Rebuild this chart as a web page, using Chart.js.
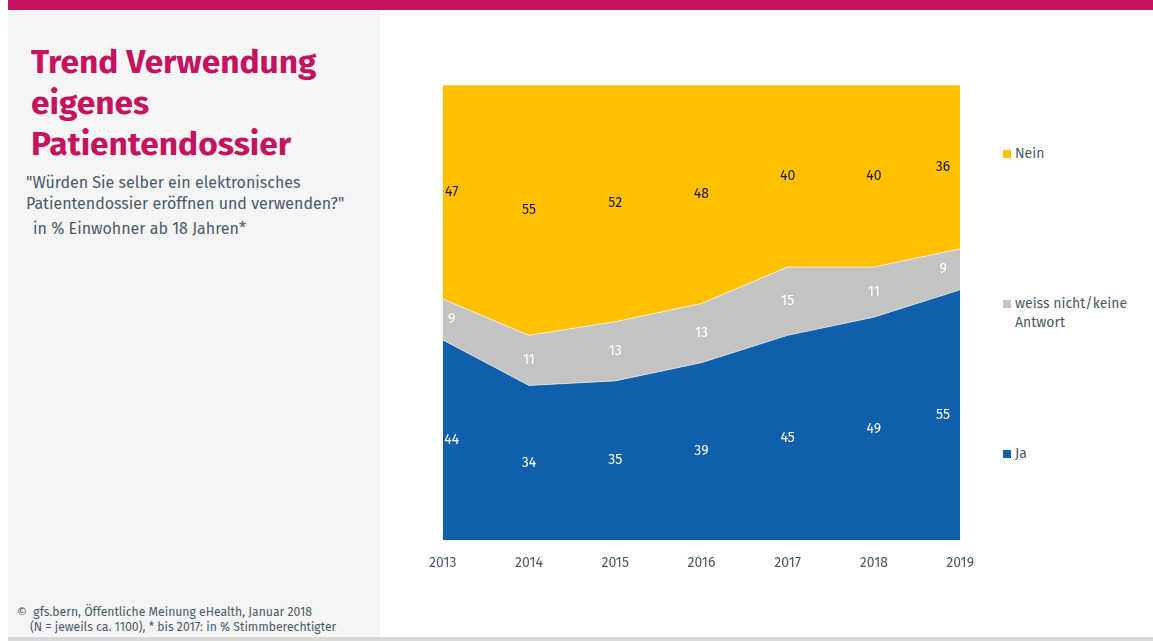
<!DOCTYPE html>
<html>
<head>
<meta charset="utf-8">
<script src="https://cdn.jsdelivr.net/npm/chart.js@4/dist/chart.umd.min.js"></script>
<style>
  body { margin: 0; width: 1153px; height: 641px; position: relative; background: #fff; overflow: hidden; font-family: "Fira Sans", Lato, "Open Sans", sans-serif; }
  #topbar { position: absolute; left: 8px; top: 0; right: 0; height: 10px; background: #c4135f; }
  #panel { position: absolute; left: 8px; top: 10px; width: 372px; bottom: 4px; background: #f5f5f5; }
  #bottomline { position: absolute; left: 8px; right: 0; bottom: 0; height: 4px; background: #d9d9d9; }
  #title { position: absolute; left: 31px; top: 42px; font-size: 33.5px; font-weight: bold; line-height: 41px; color: #c4135f; }
  #sub { position: absolute; left: 26px; top: 172px; font-size: 16px; line-height: 21px; color: #4a5a6a; }
  #sub2 { position: absolute; left: 33px; top: 219px; font-size: 16px; color: #4a5a6a; }
  #foot { position: absolute; left: 17px; top: 605px; font-size: 12.2px; line-height: 15px; color: #4a5a6a; }
  #wrap { position: absolute; left: 415px; top: 75px; width: 573px; height: 510px; }
  .leg { position: absolute; left: 1015px; font-size: 14px; line-height: 19px; color: #4a5866; }
  .leg i { position: absolute; left: -12px; top: 6px; width: 8px; height: 8px; }
</style>
</head>
<body>
<div id="topbar"></div>
<div id="panel"></div>
<div id="bottomline"></div>
<div id="title">Trend Verwendung<br>eigenes<br>Patientendossier</div>
<div id="sub">"Würden Sie selber ein elektronisches<br>Patientendossier eröffnen und verwenden?"</div>
<div id="sub2">in % Einwohner ab 18 Jahren*</div>
<div id="foot">©&nbsp;&nbsp;gfs.bern, Öffentliche Meinung eHealth, Januar 2018<br>&nbsp;&nbsp;&nbsp;&nbsp;(N = jeweils ca. 1100), * bis 2017: in % Stimmberechtigter</div>
<div id="wrap"><canvas id="plot"></canvas></div>
<div class="leg" style="top:144px"><i style="background:#ffc000"></i>Nein</div>
<div class="leg" style="top:294px"><i style="background:#c3c3c1"></i>weiss nicht/keine<br>Antwort</div>
<div class="leg" style="top:444px"><i style="background:#0f5fad"></i>Ja</div>
<script>
const years = ["2013", "2014", "2015", "2016", "2017", "2018", "2019"];
const ja = [44, 34, 35, 39, 45, 49, 55];
const weissNicht = [9, 11, 13, 13, 15, 11, 9];
const nein = [47, 55, 52, 48, 40, 40, 36];

const labelColors = ["#ffffff", "#ffffff", "#1a1a1a"];

// draws each value in the middle of its band
const bandLabels = {
  id: "bandLabels",
  afterDatasetsDraw(chart) {
    const ctx = chart.ctx;
    const y = chart.scales.y;
    ctx.save();
    ctx.font = "14px 'Fira Sans', Lato, sans-serif";
    ctx.textAlign = "center";
    ctx.textBaseline = "middle";
    chart.data.datasets.forEach((ds, di) => {
      const meta = chart.getDatasetMeta(di);
      ctx.fillStyle = labelColors[di];
      meta.data.forEach((pt, i) => {
        let base = 0;
        for (let k = 0; k < di; k++) base += chart.data.datasets[k].data[i];
        const mid = y.getPixelForValue(base + ds.data[i] / 2);
        let x = pt.x;
        if (i === 0) x += 9;
        if (i === ds.data.length - 1) x -= 17;
        ctx.fillText(ds.data[i], x, mid);
      });
    });
    ctx.restore();
  }
};

const ctx = document.querySelector("#plot").getContext("2d");
new Chart(ctx, {
  type: "line",
  data: {
    labels: years,
    datasets: [
      { label: "Ja", data: ja, backgroundColor: "#0f5fad", fill: "origin" },
      { label: "weiss nicht/keine Antwort", data: weissNicht, backgroundColor: "#c3c3c1", fill: "-1" },
      { label: "Nein", data: nein, backgroundColor: "#ffc000", fill: "-1" }
    ].map(d => Object.assign(d, { borderColor: "rgba(255,255,255,0.6)", borderWidth: 1, pointRadius: 0, tension: 0 }))
  },
  options: {
    responsive: true,
    maintainAspectRatio: false,
    animation: false,
    layout: { padding: { left: 20, right: 20, top: 10, bottom: 0 } },
    plugins: { legend: { display: false }, tooltip: { enabled: false } },
    scales: {
      x: {
        offset: false,
        grid: { display: false, drawTicks: false },
        border: { display: false },
        ticks: { color: "#4a5a6a", font: { size: 14, family: "'Fira Sans', Lato, sans-serif" }, padding: 14, maxRotation: 0 }
      },
      y: { display: false, stacked: true, min: 0, max: 100 }
    }
  },
  plugins: [bandLabels]
});
</script>
</body>
</html>
